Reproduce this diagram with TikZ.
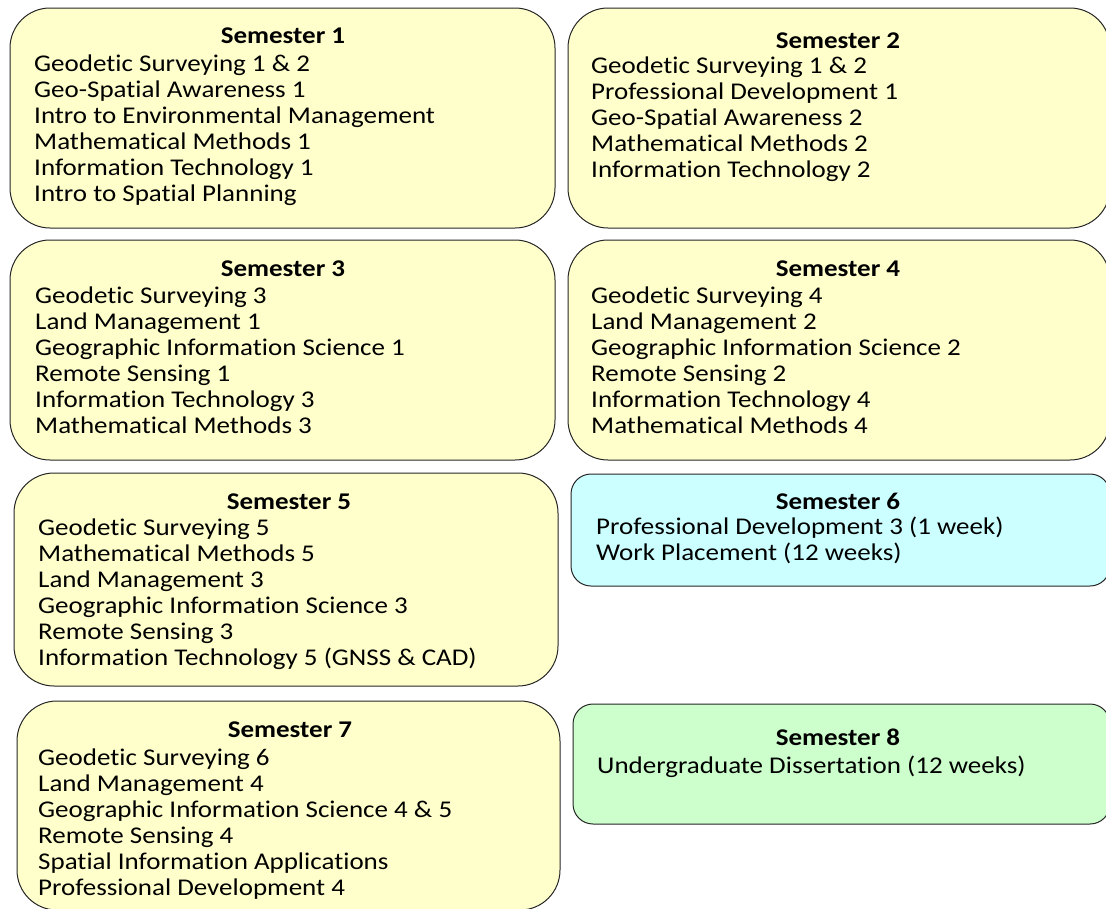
\documentclass[tikz,border=0pt]{standalone}
\usepackage{fontspec}
\setmainfont{Carlito}[FakeStretch=1.125, Ligatures=NoCommon]
\definecolor{semyellow}{HTML}{FFFFCC}
\definecolor{semcyan}{HTML}{CCFFFF}
\definecolor{semgreen}{HTML}{CCFFCC}
\tikzset{
  sembox/.style={draw=black!85, line width=1pt, inner sep=0pt, outer sep=0pt},
  bigr/.style={rounded corners=40pt},
  smallr/.style={rounded corners=20pt},
  semtitle/.style={anchor=base, inner sep=0pt, font=\fontsize{24}{26}\selectfont\bfseries},
  semitem/.style={anchor=base west, inner sep=0pt, font=\fontsize{24}{26}\selectfont},
}
\newcommand\semlines[4]{%
  \foreach \t [count=\i] in {#4} {
    \node[semitem] (#1-\i) at (#2, {#3+26*(\i-1)}) {\t};
  }%
}
\begin{document}
\begin{tikzpicture}[x=1pt, y=-1pt]
\useasboundingbox (0,0) rectangle (1106,908);
\clip (0,0) rectangle (1106,908);
% boxes
\node[sembox, bigr, fill=semyellow, minimum width=545pt, minimum height=220pt] (b1) at (282.5,118) {};
\node[sembox, bigr, fill=semyellow, minimum width=542pt, minimum height=220pt] (b2) at (839,118) {};
\node[sembox, bigr, fill=semyellow, minimum width=545pt, minimum height=220pt] (b3) at (282.5,350) {};
\node[sembox, bigr, fill=semyellow, minimum width=542pt, minimum height=220pt] (b4) at (839,350) {};
\node[sembox, bigr, fill=semyellow, minimum width=544pt, minimum height=213pt] (b5) at (286,579.5) {};
\node[sembox, smallr, fill=semcyan, minimum width=539pt, minimum height=112pt] (b6) at (840.5,530) {};
\node[sembox, bigr, fill=semyellow, minimum width=543pt, minimum height=209pt] (b7) at (288.5,805.5) {};
\node[sembox, smallr, fill=semgreen, minimum width=537pt, minimum height=120pt] (b8) at (841.5,764) {};
% titles
\node[semtitle] (h1) at (283,43) {Semester 1};
\node[semtitle] (h2) at (838,48) {Semester 2};
\node[semtitle] (h3) at (283,276) {Semester 3};
\node[semtitle] (h4) at (838,276) {Semester 4};
\node[semtitle] (h5) at (289,509) {Semester 5};
\node[semtitle] (h6) at (838,509) {Semester 6};
\node[semtitle] (h7) at (290,737) {Semester 7};
\node[semtitle] (h8) at (838,745) {Semester 8};
% items
\semlines{i1}{34}{71}{Geodetic Surveying 1 \& 2, Geo-Spatial Awareness 1, Intro to Environmental Management, Mathematical Methods 1, Information Technology 1, Intro to Spatial Planning}
\semlines{i2}{591}{73}{Geodetic Surveying 1 \& 2, Professional Development 1, Geo-Spatial Awareness 2, Mathematical Methods 2, Information Technology 2}
\semlines{i3}{35}{303}{Geodetic Surveying 3, Land Management 1, Geographic Information Science 1, Remote Sensing 1, Information Technology 3, Mathematical Methods 3}
\semlines{i4}{591}{303}{Geodetic Surveying 4, Land Management 2, Geographic Information Science 2, Remote Sensing 2, Information Technology 4, Mathematical Methods 4}
\semlines{i5}{38}{535}{Geodetic Surveying 5, Mathematical Methods 5, Land Management 3, Geographic Information Science 3, Remote Sensing 3, Information Technology 5 (GNSS \& CAD)}
\semlines{i6}{596}{534}{Professional Development 3 (1 week), Work Placement (12 weeks)}
\semlines{i7}{38}{765}{Geodetic Surveying 6, Land Management 4, Geographic Information Science 4 \& 5, Remote Sensing 4, Spatial Information Applications, Professional Development 4}
\semlines{i8}{597}{773}{Undergraduate Dissertation (12 weeks)}
\end{tikzpicture}
\end{document}
